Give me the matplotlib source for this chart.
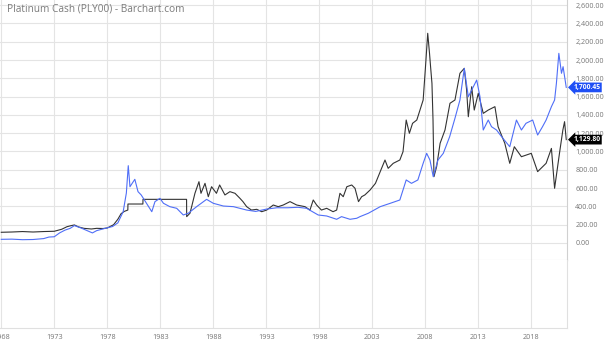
import matplotlib
matplotlib.use("Agg")
import matplotlib.pyplot as plt

# Platinum cash (black line), decimal years
plat_years = [1968.0, 1969.0, 1970.0, 1971.0, 1972.0, 1973.0, 1973.7, 1974.2, 1974.6, 1974.9,
              1975.3, 1975.8, 1976.5, 1977.0, 1977.6, 1978.0, 1978.6, 1979.0, 1979.3, 1979.6,
              1979.94, 1979.95, 1981.36, 1981.37, 1985.48, 1985.49, 1985.8, 1985.96, 1986.27, 1986.65,
              1986.84, 1987.22, 1987.53, 1987.84, 1988.3, 1988.6, 1989.1, 1989.57, 1990.05, 1990.5,
              1990.8, 1991.15, 1991.6, 1992.1, 1992.57, 1993.04, 1993.66, 1994.13, 1994.6, 1995.24,
              1995.87, 1996.65, 1997.12, 1997.43, 1997.75, 1998.2, 1998.7, 1999.3, 1999.64, 1999.95,
              2000.26, 2000.6, 2001.06, 2001.37, 2001.7, 2002.0, 2002.3, 2002.8, 2003.3, 2003.75,
              2004.2, 2004.5, 2004.98, 2005.6, 2005.9, 2006.2, 2006.5, 2006.8, 2007.2, 2007.5,
              2007.8, 2008.0, 2008.23, 2008.4, 2008.5, 2008.63, 2008.73, 2008.82, 2009.07, 2009.4,
              2009.86, 2010.33, 2010.8, 2011.27, 2011.68, 2011.9, 2012.06, 2012.38, 2012.62, 2013.0,
              2013.47, 2013.94, 2014.57, 2014.87, 2015.5, 2015.97, 2016.4, 2017.07, 2018.0, 2018.6,
              2019.4, 2019.9, 2020.2, 2020.66, 2020.98, 2021.14, 2021.3]
plat_values = [117, 120, 125, 120, 125, 128, 150, 178, 190, 197,
               175, 160, 153, 160, 158, 164, 200, 260, 320, 345,
               360, 426, 426, 477, 477, 288, 325, 397, 543, 670,
               543, 652, 506, 615, 543, 634, 525, 561, 543, 490,
               452, 397, 360, 368, 342, 360, 415, 397, 415, 452,
               415, 397, 360, 470, 415, 360, 379, 342, 360, 543,
               506, 615, 634, 598, 452, 506, 525, 580, 652, 780,
               907, 816, 871, 907, 998, 1344, 1199, 1308, 1344, 1453,
               1563, 1891, 2292, 2073, 1927, 1745, 1344, 725, 834, 1090,
               1235, 1527, 1563, 1855, 1909, 1672, 1380, 1708, 1453, 1636,
               1417, 1453, 1490, 1271, 1090, 871, 1052, 943, 980, 780,
               871, 1034, 598, 980, 1235, 1326, 1129.80]

# Gold (blue line)
gold_years = [1968.0, 1969.0, 1970.0, 1971.0, 1972.0, 1972.5, 1973.0, 1973.5, 1974.0, 1974.5,
              1974.9, 1975.5, 1976.0, 1976.6, 1977.0, 1977.8, 1978.5, 1979.0, 1979.5, 1979.8,
              1979.98, 1980.14, 1980.45, 1980.6, 1980.9, 1981.2, 1981.7, 1982.2, 1982.5, 1982.97,
              1983.3, 1983.9, 1984.55, 1985.17, 1985.64, 1986.43, 1987.37, 1988.0, 1988.95, 1989.9,
              1991.15, 1992.0, 1993.0, 1994.0, 1995.0, 1996.0, 1996.8, 1997.9, 1998.7, 1999.64,
              2000.1, 2000.9, 2001.53, 2001.84, 2002.63, 2003.75, 2004.7, 2005.6, 2006.2, 2006.7,
              2007.3, 2007.8, 2008.13, 2008.44, 2008.75, 2009.2, 2009.7, 2010.3, 2010.8, 2011.27,
              2011.68, 2012.06, 2012.38, 2012.85, 2013.16, 2013.47, 2013.94, 2014.25, 2014.72, 2015.2,
              2015.97, 2016.6, 2017.07, 2017.5, 2018.13, 2018.6, 2019.06, 2019.4, 2019.9, 2020.2,
              2020.37, 2020.6, 2020.85, 2021.0, 2021.3]
gold_values = [40, 42, 36, 38, 48, 65, 68, 110, 140, 160,
               190, 165, 140, 110, 135, 160, 180, 220, 342, 546,
               845, 615, 670, 696, 561, 525, 434, 342, 452, 488,
               434, 397, 379, 306, 325, 397, 477, 434, 404, 397,
               360, 345, 370, 385, 385, 390, 379, 306, 295, 259,
               288, 259, 270, 288, 325, 397, 434, 470, 689, 652,
               689, 871, 980, 907, 725, 907, 980, 1162, 1363, 1563,
               1909, 1599, 1672, 1781, 1599, 1235, 1344, 1271, 1235, 1162,
               1052, 1344, 1235, 1308, 1344, 1180, 1271, 1344, 1490, 1563,
               1745, 2073, 1855, 1927, 1700.45]

y_ticks = list(range(0, 2601, 200))
x_ticks = list(range(1968, 2019, 5))

plt.rcParams['font.family'] = ['Open Sans', 'DejaVu Sans']

W, H = 605, 341
fig = plt.figure(figsize=(W / 100, H / 100), dpi=100)
grid_c = '#e4e4e4'
text_c = '#777777'

# price pane
ax = fig.add_axes([0, 1 - 260 / H, 567 / W, 260 / H])
ax.set_xlim(1967.88, 2021.37)
ax.set_ylim(-186, 2656)
ax.plot(plat_years, plat_values, color='#333333', lw=0.8)
ax.plot(gold_years, gold_values, color='#4f6ef7', lw=0.8)
ax.set_xticks(x_ticks)
ax.set_yticks(y_ticks)
ax.set_yticklabels(['{:,.2f}'.format(v) for v in y_ticks])
ax.yaxis.tick_right()
ax.tick_params(axis='y', length=0, pad=6, labelsize=5.2, labelcolor=text_c)
ax.tick_params(axis='x', length=0, labelbottom=False)
ax.grid(True, color=grid_c, lw=0.8)
ax.set_axisbelow(True)
for s in ['top', 'left']:
    ax.spines[s].set_visible(False)
for s in ['right', 'bottom']:
    ax.spines[s].set_color('#d0d0d0')
    ax.spines[s].set_linewidth(0.8)

# last price labels
for txt, val, fc in [('1,700.45', gold_values[-1], '#1f4ff5'),
                     ('1,129.80', plat_values[-1], 'black')]:
    ax.annotate(txt, xy=(1.0, val), xycoords=('axes fraction', 'data'),
                xytext=(4.5, 0), textcoords='offset points', ha='left', va='center',
                fontsize=4.9, color='white', fontweight='bold', annotation_clip=False,
                bbox=dict(boxstyle='larrow,pad=0.2', fc=fc, ec='none'))

# empty lower pane
ax2 = fig.add_axes([0, 1 - 328 / H, 567 / W, 68 / H])
ax2.set_xlim(1967.88, 2021.37)
ax2.set_xticks(x_ticks)
ax2.set_yticks([])
ax2.tick_params(axis='x', length=0, pad=4, labelsize=5.2, labelcolor=text_c)
ax2.grid(True, axis='x', color=grid_c, lw=0.8)
for s in ['top', 'left']:
    ax2.spines[s].set_visible(False)
for s in ['right', 'bottom']:
    ax2.spines[s].set_color('#e0e0e0')
    ax2.spines[s].set_linewidth(0.8)

fig.text(7 / W, 1 - 9 / H, 'Platinum Cash (PLY00) - Barchart.com', fontsize=7.3,
         color='#7a7a7a', va='center', ha='left')

fig.savefig('out.png', dpi=100)
